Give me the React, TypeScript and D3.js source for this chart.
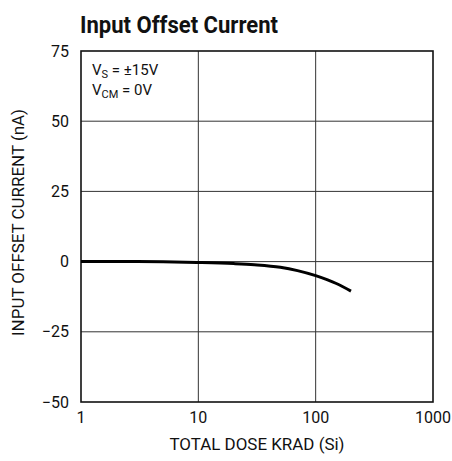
import * as d3 from "d3";

const doseValues = [1, 3, 5, 10, 20, 30, 50, 70, 100, 150, 200];
const offsetCurrent = [0, 0, -0.05, -0.3, -0.7, -1.1, -2, -3.2, -5, -7.8, -10.5];
const xTicks = [1, 10, 100, 1000];
const yTicks = [-50, -25, 0, 25, 50, 75];

const WIDTH = 452;
const HEIGHT = 461;
const MARGIN = { top: 51, right: 19, bottom: 59, left: 81 };
const FONT = "Roboto, 'Liberation Sans', sans-serif";

export default function App() {
  const innerW = WIDTH - MARGIN.left - MARGIN.right;
  const innerH = HEIGHT - MARGIN.top - MARGIN.bottom;

  const x = d3.scaleLog().domain([1, 1000]).range([0, innerW]);
  const y = d3.scaleLinear().domain([-50, 75]).range([innerH, 0]);

  const line = d3
    .line<number>()
    .x((_, i) => x(doseValues[i]))
    .y((d) => y(d))
    .curve(d3.curveMonotoneX);

  return (
    <svg
      width={WIDTH}
      height={HEIGHT}
      style={{ position: "absolute", left: 0, top: 0, background: "#fff" }}
      fontFamily={FONT}
    >
      <text
        x={80}
        y={33}
        fontSize={24}
        fontWeight="bold"
        fill="#111"
        textLength={198}
        lengthAdjust="spacingAndGlyphs"
      >
        Input Offset Current
      </text>

      <g transform={`translate(${MARGIN.left},${MARGIN.top})`}>
        {xTicks.slice(1, -1).map((t) => (
          <line key={t} x1={x(t)} x2={x(t)} y1={0} y2={innerH} stroke="#333" strokeWidth={1} />
        ))}
        {yTicks.slice(1, -1).map((t) => (
          <line key={t} x1={0} x2={innerW} y1={y(t)} y2={y(t)} stroke="#333" strokeWidth={1} />
        ))}
        <rect x={0} y={0} width={innerW} height={innerH} fill="none" stroke="#111" strokeWidth={1.6} />

        <path
          d={line(offsetCurrent) ?? ""}
          fill="none"
          stroke="#000"
          strokeWidth={3}
          strokeLinecap="butt"
        />

        {xTicks.map((t) => (
          <text
            key={t}
            x={x(t)}
            y={innerH + 21}
            textAnchor="middle"
            fontSize={16}
            fill="#111"
          >
            {t}
          </text>
        ))}
        {yTicks.map((t) => (
          <text
            key={t}
            x={-12}
            y={y(t)}
            dy="0.35em"
            textAnchor="end"
            fontSize={16}
            fill="#111"
          >
            {t < 0 ? `\u2212${Math.abs(t)}` : t}
          </text>
        ))}

        <text x={innerW / 2} y={innerH + 48} textAnchor="middle" fontSize={16} fill="#111" textLength={175} lengthAdjust="spacingAndGlyphs">
          TOTAL DOSE KRAD (Si)
        </text>

        <text fontSize={15} fill="#111">
          <tspan x={11} y={24}>V</tspan>
          <tspan fontSize={11} dy={3}>S</tspan>
          <tspan fontSize={15} dy={-3}> = ±15V</tspan>
        </text>
        <text fontSize={15} fill="#111">
          <tspan x={11} y={44}>V</tspan>
          <tspan fontSize={11} dy={3}>CM</tspan>
          <tspan fontSize={15} dy={-3}> = 0V</tspan>
        </text>
      </g>

      <text
        transform={`translate(24,${MARGIN.top + innerH / 2 - 4}) rotate(-90)`}
        textAnchor="middle"
        fontSize={16}
        fill="#111"
        textLength={227}
        lengthAdjust="spacingAndGlyphs"
      >
        INPUT OFFSET CURRENT (nA)
      </text>
    </svg>
  );
}
